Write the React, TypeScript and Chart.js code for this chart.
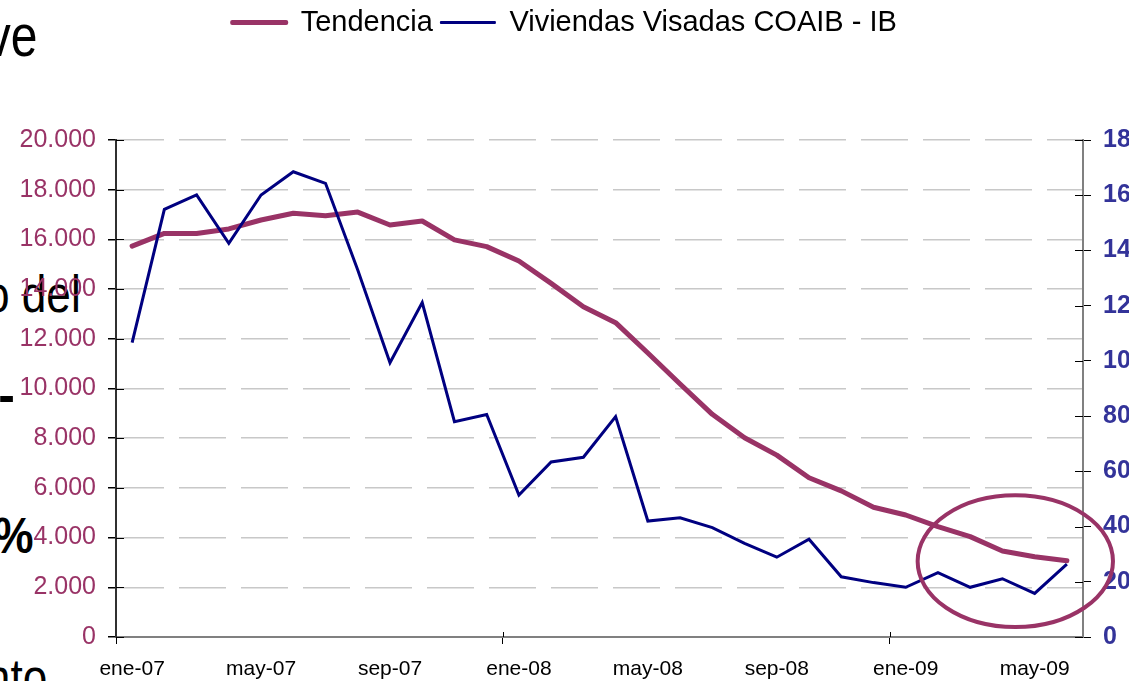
import React, { useEffect, useRef } from "react";
import { Chart, registerables } from "chart.js";

Chart.register(...registerables);

// ---- Data ----
const MONTHS = [
  "ene-07", "feb-07", "mar-07", "abr-07", "may-07", "jun-07", "jul-07", "ago-07", "sep-07", "oct-07", "nov-07", "dic-07",
  "ene-08", "feb-08", "mar-08", "abr-08", "may-08", "jun-08", "jul-08", "ago-08", "sep-08", "oct-08", "nov-08", "dic-08",
  "ene-09", "feb-09", "mar-09", "abr-09", "may-09", "jun-09",
];

const TENDENCIA = [
  15730, 16240, 16240, 16420, 16780, 17050, 16950, 17100, 16580, 16740, 15980, 15710,
  15130, 14230, 13290, 12650, 11430, 10180, 8960, 8020, 7320, 6410, 5880, 5220,
  4910, 4440, 4040, 3460, 3230, 3070,
];

const VIVIENDAS = [
  1066, 1549, 1601, 1426, 1601, 1685, 1643, 1329, 993, 1211, 780, 806,
  514, 634, 651, 798, 420, 432, 396, 339, 289, 354, 218, 197,
  180, 233, 180, 211, 158, 264,
];

const SERIES_NAMES = ["Tendencia", "Viviendas Visadas COAIB - IB"];

const LEFT_MAX = 20000;
const LEFT_STEP = 2000;
const RIGHT_MAX = 1800;
const RIGHT_STEP = 200;

const LABEL_EVERY = 4;
const TICK_MARK_EVERY = 12;

// Annotation ellipse (in data units: category index / left-axis value)
const ELLIPSE_CENTER_INDEX = 27.4;
const ELLIPSE_CENTER_VALUE = 3050;
const ELLIPSE_HALF_WIDTH_CATEGORIES = 3.03;
const ELLIPSE_HALF_HEIGHT_VALUE = 2650;

// Background slide text fragments
const SLIDE_FRAGMENTS = [
  { text: "ve", right: 37, top: 6, size: 60, bold: false, sx: 0.8 },
  { text: "o del", right: 81, top: 268, size: 52, bold: false, sx: 0.85 },
  { text: "-", right: 15, top: 370, size: 50, bold: true, sx: 1 },
  { text: "%", right: 33, top: 511, size: 50, bold: true, sx: 0.9 },
  { text: "nto", right: 47, top: 651, size: 52, bold: false, sx: 0.85 },
];

// ---- Styles ----
const PLUM = "#993366";
const NAVY = "#000080";
const RIGHT_LABEL = "#333399";
const FONT = "'Liberation Sans', Arial, sans-serif";

const fmtThousands = (v: number) =>
  String(Math.round(v)).replace(/\B(?=(\d{3})+(?!\d))/g, ".");

const legendSpacer = {
  id: "legendSpacer",
  beforeLayout(chart: any) {
    const legend = chart.legend;
    if (legend && !legend.__patched) {
      const orig = legend.fit;
      legend.fit = function () {
        orig.call(this);
        this.height = 140;
      };
      legend.__patched = true;
    }
  },
};

const crossTicks = {
  id: "crossTicks",
  beforeDatasetsDraw(chart: any) {
    const { ctx, chartArea, scales } = chart;
    ctx.save();
    ctx.strokeStyle = "#000";
    ctx.lineWidth = 1;
    ctx.beginPath();
    scales.y.ticks.forEach((t: any) => {
      const y = Math.round(scales.y.getPixelForValue(t.value)) + 0.5;
      ctx.moveTo(chartArea.left, y);
      ctx.lineTo(chartArea.left + 8, y);
    });
    scales.y1.ticks.forEach((t: any) => {
      const y = Math.round(scales.y1.getPixelForValue(t.value)) + 0.5;
      ctx.moveTo(chartArea.right - 8, y);
      ctx.lineTo(chartArea.right, y);
    });
    for (let i = TICK_MARK_EVERY; i < MONTHS.length; i += TICK_MARK_EVERY) {
      const x = Math.round((scales.x.getPixelForValue(i) + scales.x.getPixelForValue(i - 1)) / 2) + 0.5;
      ctx.moveTo(x, chartArea.bottom - 5);
      ctx.lineTo(x, chartArea.bottom);
    }
    ctx.stroke();
    ctx.restore();
  },
};

const ellipseAnnotation = {
  id: "ellipseAnnotation",
  afterDatasetsDraw(chart: any) {
    const { ctx, scales } = chart;
    const cx = scales.x.getPixelForValue(ELLIPSE_CENTER_INDEX);
    const rx = scales.x.getPixelForValue(ELLIPSE_CENTER_INDEX + ELLIPSE_HALF_WIDTH_CATEGORIES) - cx;
    const cy = scales.y.getPixelForValue(ELLIPSE_CENTER_VALUE);
    const ry = scales.y.getPixelForValue(ELLIPSE_CENTER_VALUE - ELLIPSE_HALF_HEIGHT_VALUE) - cy;
    ctx.save();
    ctx.strokeStyle = PLUM;
    ctx.lineWidth = 4;
    ctx.beginPath();
    ctx.ellipse(cx, cy, rx, ry, 0, 0, Math.PI * 2);
    ctx.stroke();
    ctx.restore();
  },
};

export default function App() {
  const canvasRef = useRef<HTMLCanvasElement | null>(null);

  useEffect(() => {
    if (!canvasRef.current) return;
    const chart = new Chart(canvasRef.current, {
      type: "line",
      data: {
        labels: MONTHS,
        datasets: [
          {
            label: SERIES_NAMES[0],
            data: TENDENCIA,
            yAxisID: "y",
            borderColor: PLUM,
            backgroundColor: PLUM,
            borderWidth: 5,
            pointRadius: 0,
            tension: 0,
            borderJoinStyle: "round",
            borderCapStyle: "round",
            order: 1,
          },
          {
            label: SERIES_NAMES[1],
            data: VIVIENDAS,
            yAxisID: "y1",
            borderColor: NAVY,
            backgroundColor: NAVY,
            borderWidth: 3,
            pointRadius: 0,
            tension: 0,
            borderJoinStyle: "miter",
            order: 0,
          },
        ],
      },
      options: {
        responsive: false,
        animation: false,
        layout: { padding: 0 },
        plugins: {
          tooltip: { enabled: false },
          legend: {
            display: true,
            position: "top",
            labels: {
              boxWidth: 54,
              boxHeight: 1,
              padding: 8,
              color: "#000",
              font: { family: FONT, size: 29 },
              generateLabels: (c: any) =>
                c.data.datasets.map((ds: any, i: number) => ({
                  text: ds.label,
                  fillStyle: ds.borderColor,
                  strokeStyle: ds.borderColor,
                  lineWidth: i === 0 ? 4 : 2,
                  lineCap: "round",
                  lineJoin: "round",
                  hidden: false,
                  datasetIndex: i,
                  fontColor: "#000",
                })),
            },
          },
        },
        scales: {
          x: {
            type: "category",
            offset: true,
            grid: {
              offset: true,
              drawOnChartArea: false,
              drawTicks: true,
              tickLength: 7,
              tickColor: (ctx: any) => (ctx.index % TICK_MARK_EVERY === 0 ? "#000" : "rgba(0,0,0,0)"),
            },
            border: { display: true, color: "#808080", width: 2 },
            ticks: {
              autoSkip: false,
              maxRotation: 0,
              minRotation: 0,
              padding: 13,
              color: "#000",
              font: { family: FONT, size: 21 },
              callback: (_v: any, i: number) => (i % LABEL_EVERY === 0 ? MONTHS[i] : ""),
            },
            afterFit: (s: any) => {
              s.height = 44;
            },
          },
          y: {
            type: "linear",
            position: "left",
            min: 0,
            max: LEFT_MAX,
            grid: {
              color: "#c8c8c8",
              lineWidth: 1.5,
              drawTicks: true,
              tickLength: 8,
              tickColor: "#000",
            },
            border: { display: true, color: "#303030", width: 2, dash: [47, 15] },
            ticks: {
              stepSize: LEFT_STEP,
              padding: 12,
              color: PLUM,
              font: { family: FONT, size: 25 },
              callback: (v: any) => fmtThousands(Number(v)),
            },
            afterFit: (s: any) => {
              s.width = 116;
            },
          },
          y1: {
            type: "linear",
            position: "right",
            min: 0,
            max: RIGHT_MAX,
            grid: {
              drawOnChartArea: false,
              drawTicks: true,
              tickLength: 8,
              tickColor: "#000",
            },
            border: { display: true, color: "#808080", width: 2 },
            ticks: {
              stepSize: RIGHT_STEP,
              padding: 12,
              color: RIGHT_LABEL,
              font: { family: FONT, size: 25, weight: "bold" },
              callback: (v: any) => String(v),
            },
            afterFit: (s: any) => {
              s.width = 46;
            },
          },
        },
      },
      plugins: [legendSpacer, crossTicks, ellipseAnnotation],
    } as any);
    return () => chart.destroy();
  }, []);

  return (
    <div
      style={{
        position: "fixed",
        left: 0,
        top: 0,
        width: 1129,
        height: 681,
        background: "#fff",
        overflow: "hidden",
      }}
    >
      {SLIDE_FRAGMENTS.map((f, i) => (
        <div
          key={i}
          style={{
            position: "absolute",
            left: f.right - 400,
            width: 400,
            top: f.top,
            display: "flex",
            justifyContent: "flex-end",
            fontFamily: FONT,
            fontSize: f.size,
            fontWeight: f.bold ? "bold" : "normal",
            lineHeight: 1,
            color: "#000",
            whiteSpace: "nowrap",
          }}
        >
          <span style={{ display: "inline-block", transform: `scaleX(${f.sx})`, transformOrigin: "right center" }}>
            {f.text}
          </span>
        </div>
      ))}
      <canvas
        ref={canvasRef}
        width={1129}
        height={681}
        style={{ position: "absolute", left: 0, top: 0, width: 1129, height: 681 }}
      />
    </div>
  );
}
